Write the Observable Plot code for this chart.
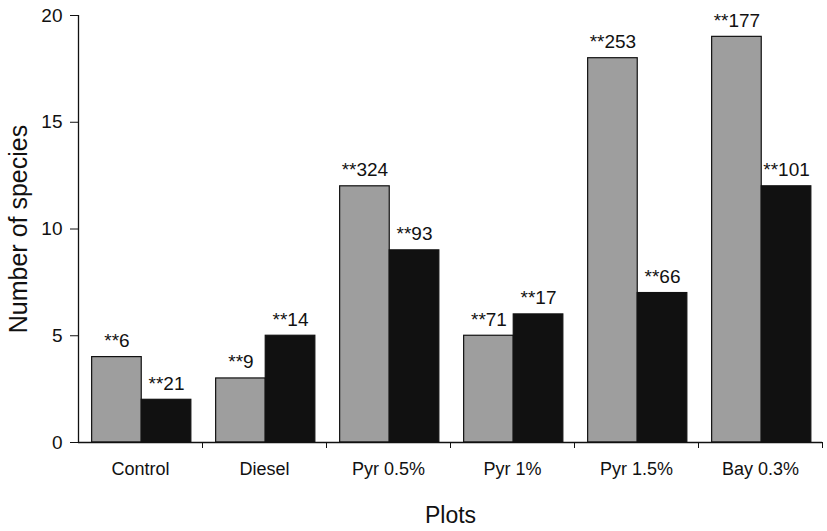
<!DOCTYPE html>
<html>
<head>
<meta charset="utf-8">
<script src="https://cdn.jsdelivr.net/npm/d3@7"></script>
<script src="https://cdn.jsdelivr.net/npm/@observablehq/plot@0.6"></script>
<style>
  html, body { margin: 0; padding: 0; background: #fff; }
  #chart svg { display: block; }
</style>
</head>
<body>
<div id="chart"></div>
<script>
const categories = ["Control", "Diesel", "Pyr 0.5%", "Pyr 1%", "Pyr 1.5%", "Bay 0.3%"];
const grayValues = [4, 3, 12, 5, 18, 19];
const blackValues = [2, 5, 9, 6, 7, 12];
const grayLabels = ["**6", "**9", "**324", "**71", "**253", "**177"];
const blackLabels = ["**21", "**14", "**93", "**17", "**66", "**101"];
const yTicks = [0, 5, 10, 15, 20];

const rows = [];
categories.forEach((c, i) => {
  rows.push({cat: c, i, series: "gray", value: grayValues[i], label: grayLabels[i], a: 0.11, b: 0.51});
  rows.push({cat: c, i, series: "black", value: blackValues[i], label: blackLabels[i], a: 0.51, b: 0.91});
});

const font = "'Liberation Sans', Arial, Helvetica, sans-serif";

const chart = Plot.plot({
  width: 827,
  height: 531,
  marginLeft: 78,
  marginRight: 5,
  marginTop: 15,
  marginBottom: 89,
  style: {fontFamily: font, fontSize: "18px", color: "#111", background: "#fff"},
  x: {type: "linear", domain: [0, categories.length], axis: null},
  y: {domain: [0, 20], axis: null},
  marks: [
    Plot.rectY(rows, {
      x1: d => d.i + d.a,
      x2: d => d.i + d.b,
      y1: 0,
      y2: "value",
      fill: d => d.series === "gray" ? "#9e9e9e" : "#111",
      stroke: "#111",
      strokeWidth: 1.2
    }),
    Plot.text(rows, {
      x: d => d.i + (d.a + d.b) / 2,
      y: "value",
      text: "label",
      dy: -10,
      lineAnchor: "bottom",
      fontSize: 19,
      fill: "#111"
    }),
    Plot.ruleY([0], {stroke: "#111", strokeWidth: 1.3}),
    Plot.ruleX([0], {y1: 0, y2: 20, stroke: "#111", strokeWidth: 1.3}),
    Plot.axisY({
      ticks: yTicks,
      tickSize: 8,
      tickPadding: 8,
      label: null,
      fontSize: 19,
      stroke: "#111"
    }),
    Plot.axisX({
      ticks: d3.range(1, categories.length + 1),
      tickSize: 6,
      tickFormat: () => "",
      label: null,
      stroke: "#111"
    }),
    Plot.axisX({
      ticks: categories.map((c, i) => i + 0.5),
      tickSize: 0,
      tickPadding: 20,
      tickFormat: d => categories[Math.floor(d)],
      label: null,
      fontSize: 18
    }),
    Plot.text(["Plots"], {
      frameAnchor: "bottom",
      dy: 73,
      lineAnchor: "middle",
      fontSize: 23,
      fill: "#111"
    }),
    Plot.text(["Number of species"], {
      frameAnchor: "left",
      textAnchor: "middle",
      lineAnchor: "middle",
      rotate: -90,
      dx: -60,
      fontSize: 25,
      fill: "#111"
    })
  ]
});

document.getElementById("chart").appendChild(chart);
</script>
</body>
</html>
